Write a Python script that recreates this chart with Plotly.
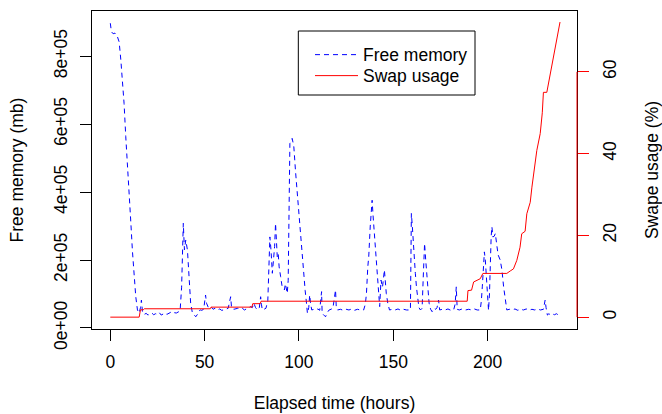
import plotly.graph_objects as go

# ---- data ----
time_free = [0, 0.6, 1.5, 2.5, 3.5, 4.7, 5.6, 6.4, 7.3, 8.2,
             9.1, 10.0, 10.9, 11.7, 12.6, 13.5, 14.4, 15.3, 16.0, 16.5,
             17.1, 18, 19, 20, 21, 22, 23, 24, 25, 26,
             27, 28, 29, 30, 31, 32, 33, 34, 35, 36,
             37, 37.8, 38.7, 39.3, 40.0, 40.9, 41.8, 42.6, 43.5, 44.4,
             45.3, 46.2, 47.0, 47.7, 48.5, 49.5, 50.5, 51.0, 52.0, 53.2,
             54.5, 55.5, 56.7, 58.0, 59.0, 60.2, 61.5, 62.5, 63.8, 64.3,
             65.5, 67.6, 69.0, 70.0, 71.1, 72.5, 74.4, 75.3, 76.1, 77.0,
             78.0, 79.0, 79.7, 80.1, 80.6, 81.5, 82.5, 83.5, 84.6, 85.2,
             85.9, 86.5, 87.1, 87.6, 88.1, 88.5, 89.0, 89.5, 90.3, 91.0,
             91.7, 92.3, 92.8, 93.3, 93.8, 94.3, 94.7, 95.2, 95.8, 96.4,
             96.9, 97.3, 98.2, 99.1, 100.0, 100.8, 101.7, 102.6, 103.3, 104.0,
             104.5, 105.2, 105.7, 106.2, 106.8, 108, 109, 110, 111, 112,
             112.3, 113.2, 114.1, 115, 116, 117, 118, 119.4, 119.8, 120.5,
             122, 123.5, 125, 126.5, 128, 129.5, 131, 132.5, 134.3, 135.2,
             135.8, 136.5, 137.0, 137.8, 138.3, 138.8, 139.3, 139.8, 140.5, 141.3,
             142.3, 142.8, 143.5, 144.3, 145.3, 145.8, 146.3, 147.1, 148, 149.5,
             151, 152.5, 154, 155.5, 157, 159.1, 159.6, 160.1, 160.5, 161.1,
             161.7, 162.3, 162.9, 163.6, 164.4, 165.3, 165.9, 166.6, 167.2, 168.2,
             169.0, 169.8, 170.6, 171.5, 172.5, 173.2, 174.0, 174.6, 176, 177.5,
             179, 180.5, 182, 182.8, 183.4, 183.9, 185, 186.5, 188.3, 190,
             191.5, 193, 194.5, 196.1, 196.7, 197.2, 197.8, 198.3, 198.8, 199.3,
             199.8, 200.5, 201.0, 201.4, 201.9, 202.3, 202.8, 203.5, 204.1, 205.0,
             205.6, 206.7, 207.6, 208.5, 209.3, 210.2, 211.5, 213, 214.5, 216,
             217.5, 219, 220.5, 222, 223.5, 225, 226.5, 228, 229.6, 230.2,
             230.5, 231.0, 231.7, 232.5, 233.5, 234.5, 235.5, 236.5, 237.6, 238.4]

free_memory = [897000, 872000, 866000, 868000, 862000, 842000, 788000, 739000, 661000, 563000,
               465000, 386000, 309000, 229000, 151000, 92000, 53000, 44000, 60000, 82000,
               44000, 40000, 43000, 38000, 41000, 44000, 39000, 42000, 40000, 45000,
               38000, 42000, 44000, 40000, 43000, 46000, 42000, 45000, 44000, 48000,
               50000, 120000, 308000, 230000, 259000, 229000, 151000, 73000, 45000, 38000,
               33000, 40000, 50000, 53000, 52000, 55000, 97000, 73000, 60000, 63000,
               55000, 58000, 53000, 56000, 52000, 53000, 55000, 58000, 92000, 58000,
               55000, 58000, 55000, 58000, 53000, 57000, 63000, 60000, 73000, 60000,
               53000, 60000, 92000, 70000, 53000, 55000, 58000, 80000, 268000, 229000,
               161000, 200000, 240000, 308000, 260000, 210000, 220000, 180000, 151000, 125000,
               121000, 112000, 130000, 115000, 102000, 140000, 300000, 543000, 550000, 558000,
               545000, 533000, 460000, 396000, 330000, 278000, 220000, 161000, 110000, 73000,
               43000, 60000, 97000, 70000, 53000, 55000, 53000, 56000, 52000, 107000,
               43000, 38000, 33000, 45000, 53000, 55000, 58000, 112000, 60000, 53000,
               55000, 52000, 55000, 53000, 56000, 52000, 55000, 53000, 53000, 70000,
               102000, 180000, 210000, 300000, 360000, 376000, 330000, 290000, 249000, 190000,
               121000, 63000, 141000, 120000, 171000, 130000, 102000, 73000, 53000, 55000,
               53000, 56000, 52000, 55000, 53000, 53000, 337000, 300000, 259000, 210000,
               161000, 120000, 92000, 60000, 53000, 58000, 150000, 249000, 200000, 121000,
               73000, 55000, 48000, 58000, 55000, 60000, 82000, 53000, 55000, 53000,
               56000, 52000, 53000, 70000, 121000, 55000, 53000, 56000, 53000, 55000,
               53000, 56000, 53000, 53000, 80000, 121000, 180000, 224000, 200000, 150000,
               90000, 52000, 100000, 220000, 270000, 298000, 268000, 270000, 278000, 239000,
               215000, 200000, 171000, 121000, 82000, 53000, 55000, 53000, 56000, 52000,
               55000, 53000, 56000, 52000, 55000, 53000, 56000, 53000, 55000, 70000,
               82000, 60000, 38000, 42000, 38000, 41000, 39000, 42000, 38000, 40000]

time_swap = [0, 15.3, 16.0, 17.5, 18.0, 53.0, 53.4, 75.1, 75.5, 79.5,
             79.9, 189.2, 189.6, 191.5, 192.6, 194.0, 196.1, 197.5, 210.2, 212.0,
             213.7, 215.5, 217.2, 218.1, 219.9, 220.8, 222.6, 223.5, 224.7, 226.1,
             227.9, 229.0, 229.6, 231.4, 238.4]
swap_usage = [0, 0, 1.8, 1.8, 2.05, 2.05, 2.45, 2.45, 3.3, 3.3,
              3.9, 3.9, 6.5, 6.6, 8.6, 9.0, 9.4, 10.7, 10.7, 11.3,
              11.8, 13.9, 17.1, 20.4, 21.0, 25.3, 28.1, 31.8, 35.9, 40.8,
              44.9, 50.0, 55.0, 55.0, 72.2]

x_ticks = [0, 50, 100, 150, 200]
y_ticks = [0, 200000, 400000, 600000, 800000]
y_ticktext = ["0e+00", "2e+05", "4e+05", "6e+05", "8e+05"]
y2_ticks = [0, 20, 40, 60]

FONT = "Liberation Sans, Arial, Helvetica, sans-serif"
FS = 17.5

fig = go.Figure()
fig.add_trace(go.Scatter(x=time_free, y=free_memory, mode="lines", name="Free memory",
                         line=dict(color="#0000ff", width=1, dash="5px,4px"),
                         yaxis="y", legend="legend"))
fig.add_trace(go.Scatter(x=time_swap, y=swap_usage, mode="lines", name="Swap usage",
                         line=dict(color="#ff0000", width=1),
                         yaxis="y2", legend="legend2"))

legend_common = dict(xanchor="left", yanchor="top", bgcolor="rgba(0,0,0,0)",
                     borderwidth=0, itemwidth=43,
                     font=dict(family=FONT, size=FS, color="black"))

fig.update_layout(
    width=662, height=414,
    margin=dict(l=92, r=85, t=11, b=85),
    paper_bgcolor="white", plot_bgcolor="white",
    font=dict(family=FONT, size=FS, color="black"),
    showlegend=True,
    legend=dict(x=0.4495, y=0.919, **legend_common),
    legend2=dict(x=0.4495, y=0.853, **legend_common),
    xaxis=dict(range=[-9.7, 247.4], tickvals=x_ticks, ticks="outside", ticklen=11,
               tickwidth=1, tickcolor="black", showline=True, mirror=True,
               linecolor="black", linewidth=1, showgrid=False, zeroline=False,
               ticklabelstandoff=6,
               title=dict(text="Elapsed time (hours)", standoff=25,
                          font=dict(family=FONT, size=FS)),
               automargin=False),
    yaxis=dict(range=[-3000, 933000], tickvals=y_ticks, ticktext=y_ticktext,
               tickangle=-90, ticks="outside", ticklen=11, tickwidth=1,
               tickcolor="black", showline=True, mirror=True, linecolor="black",
               linewidth=1, showgrid=False, zeroline=False, ticklabelstandoff=6,
               title=dict(text="Free memory (mb)", standoff=22,
                          font=dict(family=FONT, size=FS)),
               automargin=False),
    yaxis2=dict(range=[-2.9, 74.9], tickvals=y2_ticks, overlaying="y", side="right",
                tickangle=-90, ticks="outside", ticklen=11, tickwidth=1,
                tickcolor="#ff0000", showline=False, showgrid=False, zeroline=False,
                ticklabelstandoff=6,
                title=dict(text="Swape usage (%)", standoff=26,
                           font=dict(family=FONT, size=FS)),
                automargin=False),
    shapes=[
        dict(type="line", xref="paper", x0=1, x1=1, yref="y2", y0=0, y1=60,
             line=dict(color="#ff0000", width=1)),
        dict(type="rect", xref="paper", yref="paper", x0=0.4254, x1=0.7897,
             y0=0.7358, y1=0.9371, line=dict(color="black", width=1),
             fillcolor="rgba(0,0,0,0)"),
    ],
)

fig.write_html("out.html")
